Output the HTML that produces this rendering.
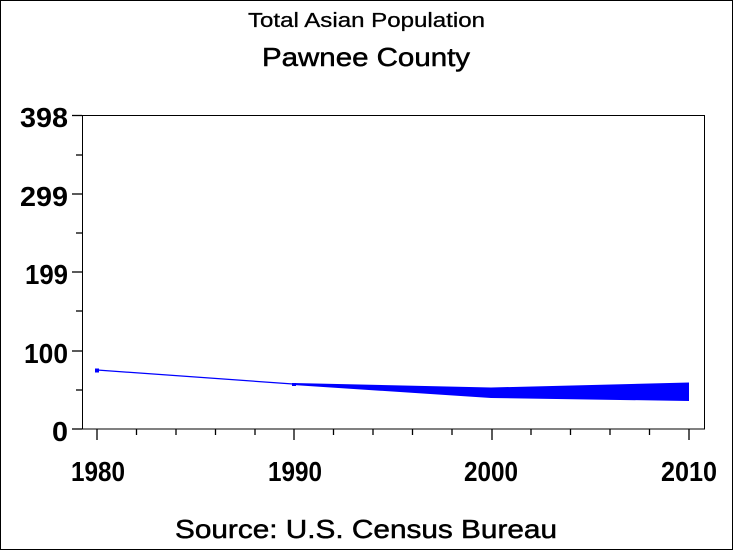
<!DOCTYPE html>
<html><head><style>
body{margin:0;background:#fff}
svg{display:block;font-family:"Liberation Sans",Arial,sans-serif}
</style></head><body>
<svg width="733" height="550" viewBox="0 0 733 550">
<rect x="0.5" y="0.5" width="732" height="549" fill="#fff" stroke="#000"/>
<text x="248" y="27" font-size="20" textLength="237" lengthAdjust="spacingAndGlyphs" stroke="#000" stroke-width="0.3">Total Asian Population</text>
<text x="262" y="66" font-size="26" textLength="208" lengthAdjust="spacingAndGlyphs" stroke="#000" stroke-width="0.5">Pawnee County</text>
<rect x="82.5" y="115.5" width="622" height="313.5" fill="none" stroke="#000"/>
<g stroke="#000" stroke-width="1.3">
<line x1="72" y1="115.5" x2="82" y2="115.5"/><line x1="76" y1="155" x2="82" y2="155"/>
<line x1="72" y1="194" x2="82" y2="194"/><line x1="76" y1="233" x2="82" y2="233"/>
<line x1="72" y1="272" x2="82" y2="272"/><line x1="76" y1="311" x2="82" y2="311"/>
<line x1="72" y1="351" x2="82" y2="351"/><line x1="76" y1="390" x2="82" y2="390"/>
<line x1="72" y1="429" x2="82" y2="429"/>
<line x1="97" y1="429" x2="97" y2="440"/><line x1="136.5" y1="429" x2="136.5" y2="435"/>
<line x1="176" y1="429" x2="176" y2="435"/><line x1="215.5" y1="429" x2="215.5" y2="435"/>
<line x1="255" y1="429" x2="255" y2="435"/><line x1="294" y1="429" x2="294" y2="440"/>
<line x1="333.5" y1="429" x2="333.5" y2="435"/><line x1="373" y1="429" x2="373" y2="435"/>
<line x1="412.5" y1="429" x2="412.5" y2="435"/><line x1="452" y1="429" x2="452" y2="435"/>
<line x1="492" y1="429" x2="492" y2="440"/><line x1="531" y1="429" x2="531" y2="435"/>
<line x1="570.5" y1="429" x2="570.5" y2="435"/><line x1="610" y1="429" x2="610" y2="435"/>
<line x1="649.5" y1="429" x2="649.5" y2="435"/><line x1="689" y1="429" x2="689" y2="440"/>
</g>
<g font-size="28" font-weight="bold" lengthAdjust="spacingAndGlyphs">
<text x="20" y="127" textLength="48" lengthAdjust="spacingAndGlyphs">398</text>
<text x="20" y="206" textLength="48" lengthAdjust="spacingAndGlyphs">299</text>
<text x="25" y="284" textLength="43" lengthAdjust="spacingAndGlyphs">199</text>
<text x="24" y="363" textLength="44" lengthAdjust="spacingAndGlyphs">100</text>
<text x="52" y="441" textLength="16" lengthAdjust="spacingAndGlyphs">0</text>
</g>
<g font-size="28" font-weight="bold">
<text x="71" y="481" textLength="54" lengthAdjust="spacingAndGlyphs">1980</text>
<text x="268" y="481" textLength="54" lengthAdjust="spacingAndGlyphs">1990</text>
<text x="464" y="481" textLength="54" lengthAdjust="spacingAndGlyphs">2000</text>
<text x="661" y="481" textLength="56" lengthAdjust="spacingAndGlyphs">2010</text>
</g>
<polyline points="97,370 293,384" fill="none" stroke="#00f" stroke-width="1.2"/>
<polygon points="293,383 491,387.5 689,382.5 689,401 491,398 293,385" fill="#00f"/>
<rect x="95" y="368.5" width="4" height="4" fill="#00f"/>
<rect x="292" y="383" width="4" height="3" fill="#00f"/>
<text x="175" y="538" font-size="26" textLength="382" lengthAdjust="spacingAndGlyphs" stroke="#000" stroke-width="0.5">Source: U.S. Census Bureau</text>
</svg>
</body></html>
